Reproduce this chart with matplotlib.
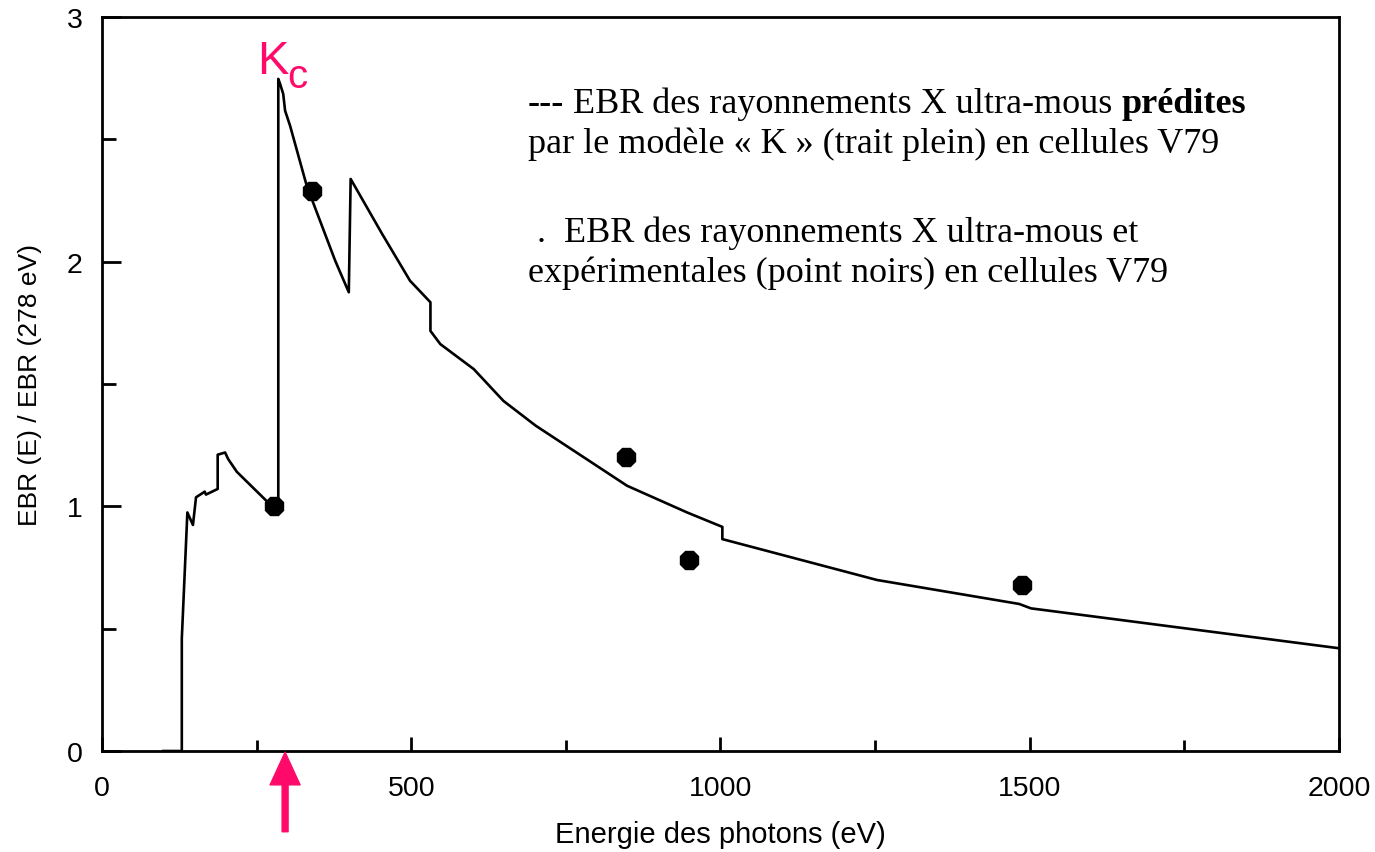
"""EBR ratio of ultra-soft X-rays vs photon energy (V79 cells)"""
import matplotlib
matplotlib.use('Agg')
import matplotlib.pyplot as plt
from matplotlib.ticker import MultipleLocator

# model "K" prediction (solid line)
energy = [99, 129, 129, 138, 147, 152, 160, 166, 168, 187, 187, 199, 204, 218, 266, 285,
          285, 288, 293, 296, 304, 331, 377, 385, 399, 402, 453, 498, 531, 531, 547, 601,
          649, 701, 849, 946, 1003, 1003, 1253, 1483, 1502, 2000]
ebr_model = [0, 0, 0.46, 0.975, 0.924, 1.037, 1.05, 1.06, 1.048, 1.071, 1.211, 1.22, 1.193, 1.141, 1.022, 0.995,
             2.747, 2.726, 2.685, 2.617, 2.556, 2.31, 2.004, 1.957, 1.875, 2.338, 2.113, 1.922, 1.834, 1.717, 1.663, 1.561,
             1.431, 1.33, 1.084, 0.975, 0.916, 0.866, 0.699, 0.601, 0.583, 0.42]

# experimental points
exp_energy = [278, 340, 848, 949, 1487]
exp_ebr = [1.0, 2.29, 1.2, 0.78, 0.68]

kc_energy = 296
pink = '#FF0A6A'
serif = 'Liberation Serif'
sans = 'Liberation Sans'

plt.rcParams['font.family'] = sans

fig = plt.figure(figsize=(13.75, 8.53), dpi=100)
ax = fig.add_axes([0.0742, 0.1184, 0.8996, 0.8605])

ax.plot(energy, ebr_model, color='black', linewidth=1.9)
ax.plot(exp_energy, exp_ebr, linestyle='none', marker='8', markersize=14.5, color='black')

ax.set_xlim(0, 2000)
ax.set_ylim(0, 3)
ax.xaxis.set_major_locator(MultipleLocator(500))
ax.xaxis.set_minor_locator(MultipleLocator(250))
ax.yaxis.set_major_locator(MultipleLocator(1))
ax.yaxis.set_minor_locator(MultipleLocator(0.5))
for s in ax.spines.values():
    s.set_linewidth(2)
ax.tick_params(axis='x', which='major', direction='in', length=10, width=2, pad=17, labelsize=20.5)
ax.tick_params(axis='x', which='minor', direction='in', length=8, width=2)
ax.tick_params(axis='y', which='major', direction='in', length=14, width=2, pad=14, labelsize=20.5)
ax.tick_params(axis='y', which='minor', direction='in', length=10, width=2)

ax.set_xlabel('Energie des photons (eV)', fontsize=21, labelpad=14)
ax.set_ylabel('EBR (E) / EBR (278 eV)', fontsize=19, labelpad=18)

# K edge label and arrow
ax.text(250, 2.77, 'K', color=pink, fontsize=34, va='baseline', ha='left', clip_on=False)
ax.text(300, 2.714, 'c', color=pink, fontsize=29, va='baseline', ha='left', clip_on=False)
ax.annotate('', xy=(kc_energy, -0.005), xytext=(kc_energy, -0.33), annotation_clip=False,
            arrowprops=dict(width=4.3, headwidth=21.6, headlength=23.5, shrink=0, color=pink))

# legend text
fs = 26
t = ax.text(688, 2.612, '---', fontsize=fs, family=serif, weight='bold', va='baseline')
t = ax.annotate(' EBR des rayonnements X ultra-mous ', xy=(1, 0), xycoords=t, va='bottom',
                fontsize=fs, family=serif)
ax.annotate('prédites', xy=(1, 0), xycoords=t, va='bottom', fontsize=fs, family=serif, weight='bold')
ax.text(688, 2.448, 'par le modèle « K » (trait plein) en cellules V79', fontsize=fs, family=serif, va='baseline')
ax.text(688, 2.084, ' .  EBR des rayonnements X ultra-mous et', fontsize=fs, family=serif, va='baseline')
ax.text(688, 1.921, 'expérimentales (point noirs) en cellules V79', fontsize=fs, family=serif, va='baseline')

plt.savefig('out.png', dpi=100)
